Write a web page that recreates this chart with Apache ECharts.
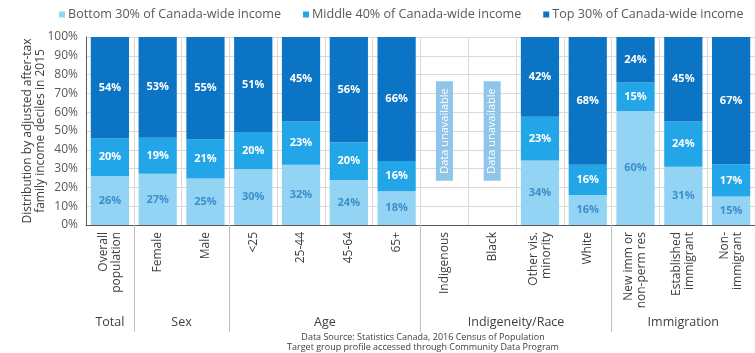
<!DOCTYPE html>
<html>
<head>
<meta charset="utf-8">
<script src="https://cdn.jsdelivr.net/npm/echarts@6/dist/echarts.min.js"></script>
<style>
  html, body { margin: 0; padding: 0; background: #fff; }
  #main { width: 755px; height: 353px; }
</style>
</head>
<body>
<div id="main"></div>
<script>
// categories (bottom to top of each bar)
var categories = ['Overall\npopulation', 'Female', 'Male', '<25', '25-44', '45-64', '65+',
  'Indigenous', 'Black', 'Other vis.\nminority', 'White', 'New imm or\nnon-perm res',
  'Established\nimmigrant', 'Non-\nimmigrant'];
var bottom30 = [26, 27, 25, 30, 32, 24, 18, null, null, 34, 16, 60, 31, 15];
var middle40 = [20, 19, 21, 20, 23, 20, 16, null, null, 23, 16, 15, 24, 17];
var top30    = [54, 53, 55, 51, 45, 56, 66, null, null, 42, 68, 24, 45, 67];
var unavailable = [null, null, null, null, null, null, null, 100, 100, null, null, null, null, null];

// group row under the category labels
var groupNames = ['Total', 'Sex', 'Age', 'Indigeneity/Race', 'Immigration'];
var groupCenters = [0.5, 2, 5, 9, 12.5];
var groupBreaks = [1, 3, 7, 11];

var yTicks = [0, 10, 20, 30, 40, 50, 60, 70, 80, 90, 100];

var font = 'Open Sans';
var colBottom = '#93d3f4', colMiddle = '#22a6e8', colTop = '#0b74c4';

// 100% stacked: scale each bar to its own total, keep printed value as label
function share(arr, i) {
  var s = (bottom30[i] || 0) + (middle40[i] || 0) + (top30[i] || 0);
  if (arr[i] == null) return '-';
  return { value: arr[i] / s * 100, raw: arr[i] };
}
function build(arr) {
  var out = [];
  for (var i = 0; i < arr.length; i++) out.push(share(arr, i));
  return out;
}

function segment(name, arr, color, labelColor) {
  return {
    name: name,
    type: 'bar',
    stack: 'total',
    barCategoryGap: '20%',
    data: build(arr),
    itemStyle: { color: color },
    label: {
      show: true,
      position: 'inside',
      fontFamily: font,
      fontSize: 11,
      fontWeight: 'bold',
      color: labelColor,
      formatter: function (p) { return p.data.raw + '%'; }
    },
    emphasis: { disabled: true }
  };
}

var chart = echarts.init(document.getElementById('main'));
chart.setOption({
  animation: false,
  textStyle: { fontFamily: font },
  title: {
    text: 'Data Source: Statistics Canada, 2016 Census of Population\nTarget group profile accessed through Community Data Program',
    left: 423,
    top: 332,
    padding: 0,
    textAlign: 'center',
    textStyle: { fontFamily: font, fontSize: 9, fontWeight: 'normal', color: '#404040', lineHeight: 10 }
  },
  // y axis title, two lines rotated
  graphic: [{
    type: 'text',
    x: 34,
    y: 131,
    rotation: Math.PI / 2,
    style: {
      text: 'Distribution by adjusted after-tax\nfamily income deciles in 2015',
      fontFamily: font,
      fontSize: 12,
      lineHeight: 13,
      fill: '#404040',
      align: 'center',
      verticalAlign: 'middle'
    }
  }],
  legend: {
    top: 3,
    left: 54,
    width: 700,
    icon: 'rect',
    itemWidth: 6,
    itemHeight: 6,
    itemGap: 22,
    data: ['Bottom 30% of Canada-wide income', 'Middle 40% of Canada-wide income', 'Top 30% of Canada-wide income'],
    textStyle: { fontFamily: font, fontSize: 12.6, color: '#595959', padding: [0, 0, 0, -2] }
  },
  grid: { left: 86, right: 0, top: 37, bottom: 128, containLabel: false },
  xAxis: [{
    type: 'category',
    data: categories,
    axisLine: { lineStyle: { color: '#595959' } },
    axisTick: { show: false },
    splitLine: { show: true, interval: 0, lineStyle: { color: '#d9d9d9' } },
    axisLabel: {
      interval: 0,
      rotate: 90,
      margin: 7,
      fontFamily: font,
      fontSize: 12,
      lineHeight: 13,
      color: '#404040'
    }
  }, {
    type: 'value',
    min: 0,
    max: 14,
    position: 'bottom',
    offset: 107,
    axisLine: { show: false },
    splitLine: { show: false },
    axisTick: {
      show: true,
      inside: true,
      length: 107,
      customValues: groupBreaks,
      lineStyle: { color: '#bfbfbf' }
    },
    axisLabel: {
      inside: true,
      margin: 3,
      customValues: groupCenters,
      fontFamily: font,
      fontSize: 12.5,
      color: '#404040',
      formatter: function (v) {
        var k = groupCenters.indexOf(v);
        return k >= 0 ? groupNames[k] : '';
      }
    }
  }],
  yAxis: {
    type: 'value',
    min: 0,
    max: 100,
    interval: 10,
    axisLine: { show: true, lineStyle: { color: '#595959' } },
    axisTick: { show: false },
    splitLine: { lineStyle: { color: '#d9d9d9' } },
    axisLabel: {
      fontFamily: font,
      fontSize: 12,
      color: '#595959',
      margin: 8,
      customValues: yTicks,
      formatter: '{value}%'
    }
  },
  series: [
    segment('Bottom 30% of Canada-wide income', bottom30, colBottom, '#3b8fca'),
    segment('Middle 40% of Canada-wide income', middle40, colMiddle, '#ffffff'),
    segment('Top 30% of Canada-wide income', top30, colTop, '#ffffff'),
    {
      name: 'unavailable',
      type: 'bar',
      stack: 'total',
      silent: true,
      data: unavailable.map(function (v) { return v == null ? '-' : v; }),
      itemStyle: { color: 'rgba(0,0,0,0)' },
      label: {
        show: true,
        position: 'inside',
        rotate: 90,
        formatter: 'Data unavailable',
        fontFamily: font,
        fontSize: 11,
        color: '#ffffff',
        backgroundColor: '#8ec5e8',
        padding: [3, 7]
      },
      emphasis: { disabled: true }
    }
  ]
});
</script>
</body>
</html>
